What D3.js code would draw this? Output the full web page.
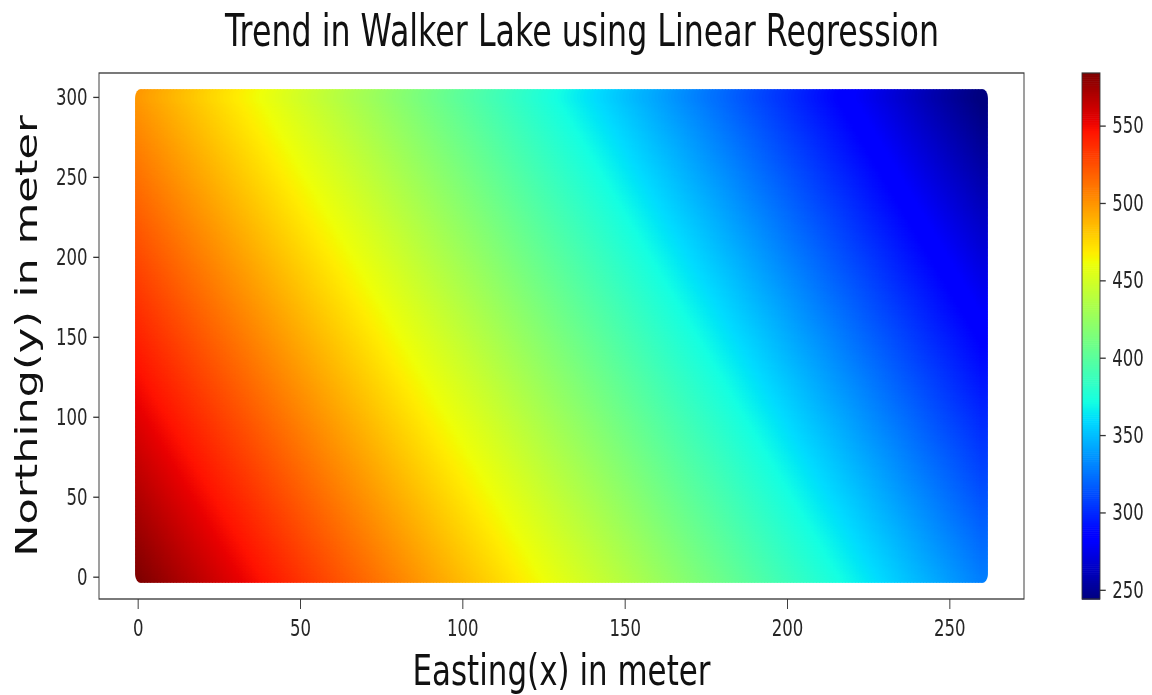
<!DOCTYPE html>
<html>
<head>
<meta charset="utf-8">
<script src="https://cdn.jsdelivr.net/npm/d3@7"></script>
<style>
  html, body { margin: 0; padding: 0; background: #fff; }
  #wrap { position: relative; width: 1152px; height: 695px; overflow: hidden; }
  #wrap canvas, #wrap svg { position: absolute; left: 0; top: 0; }
  text { font-family: "DejaVu Sans", sans-serif; }
</style>
</head>
<body>
<div id="wrap">
  <canvas id="points" width="1152" height="695"></canvas>
  <svg id="chart" width="1152" height="695"></svg>
</div>
<script>
// ---- data ----
const eastingRange = [1, 260];          // sample grid, metres
const northingRange = [1, 300];
const gridStep = [1];
// fitted trend: value = b0 + b1 * easting + b2 * northing
const trendCoefficients = [585.27, -0.9835, -0.285];
const xTickValues = [0, 50, 100, 150, 200, 250];
const yTickValues = [0, 50, 100, 150, 200, 250, 300];
const colorbarTickValues = [250, 300, 350, 400, 450, 500, 550];
const titleText = "Trend in Walker Lake using Linear Regression";
const xLabelText = "Easting(x) in meter";
const yLabelText = "Northing(y) in meter";

// ---- figure geometry (the figure is drawn horizontally condensed) ----
const S = 0.72;                 // horizontal condensing factor
const axL = 99 / S, axR = 1024 / S, axT = 73, axB = 599;
const cbL = 1082 / S, cbR = 1100 / S;

// ---- jet colormap (matplotlib segment data) ----
const jetR = d3.scaleLinear().domain([0, 0.35, 0.66, 0.89, 1]).range([0, 0, 1, 1, 0.5]).clamp(true);
const jetG = d3.scaleLinear().domain([0, 0.125, 0.375, 0.64, 0.91, 1]).range([0, 0, 1, 1, 0, 0]).clamp(true);
const jetB = d3.scaleLinear().domain([0, 0.11, 0.34, 0.65, 1]).range([0.5, 1, 1, 0, 0]).clamp(true);
const jet = t => d3.rgb(jetR(t) * 255, jetG(t) * 255, jetB(t) * 255).toString();

// ---- sample points and predicted trend ----
const step = gridStep[0];
const eastings = d3.range(eastingRange[0], eastingRange[1] + step / 2, step);
const northings = d3.range(northingRange[0], northingRange[1] + step / 2, step);
const [b0, b1, b2] = trendCoefficients;
const points = [];
for (const n of northings) for (const e of eastings) {
  points.push({ e, n, v: b0 + b1 * e + b2 * n });
}
const [vmin, vmax] = d3.extent(points, d => d.v);
const norm = d3.scaleLinear().domain([vmin, vmax]).range([0, 1]).clamp(true);

// ---- scales (5% margins as in the default autoscale) ----
const ex = eastingRange[1] - eastingRange[0], ny = northingRange[1] - northingRange[0];
const x = d3.scaleLinear()
  .domain([eastingRange[0] - 0.05 * ex, eastingRange[1] + 0.05 * ex])
  .range([axL, axR]);
const y = d3.scaleLinear()
  .domain([northingRange[0] - 0.05 * ny, northingRange[1] + 0.05 * ny])
  .range([axB, axT]);
const cb = d3.scaleLinear().domain([vmin, vmax]).range([axB, axT]);

// ---- scatter on canvas ----
const ctx = document.getElementById("points").getContext("2d");
ctx.setTransform(S, 0, 0, 1, 0, 0);
const r = 8;
for (const p of points) {
  ctx.fillStyle = jet(norm(p.v));
  ctx.beginPath();
  ctx.arc(x(p.e), y(p.n), r, 0, 2 * Math.PI);
  ctx.fill();
}

// ---- svg overlay ----
const svg = d3.select("#chart");
const g = svg.append("g").attr("transform", `scale(${S},1)`);
const ink = "#262626";

// frame
g.append("rect")
  .attr("x", axL).attr("y", axT)
  .attr("width", axR - axL).attr("height", axB - axT)
  .attr("fill", "none").attr("stroke", "#333").attr("stroke-width", 1.3);

const styleAxis = sel => {
  sel.select(".domain").remove();
  sel.selectAll(".tick line").attr("stroke", "#333").attr("stroke-width", 1.3);
  sel.selectAll(".tick text").attr("fill", ink).attr("font-size", 23)
    .attr("font-family", "DejaVu Sans, sans-serif");
};

g.append("g")
  .attr("transform", `translate(0,${axB})`)
  .call(d3.axisBottom(x).tickValues(xTickValues).tickSize(10).tickPadding(11).tickFormat(d3.format("d")))
  .call(styleAxis);

g.append("g")
  .attr("transform", `translate(${axL},0)`)
  .call(d3.axisLeft(y).tickValues(yTickValues).tickSize(8).tickPadding(8).tickFormat(d3.format("d")))
  .call(styleAxis);

// colorbar
const levels = d3.range(256);
const band = (vmax - vmin) / 256;
g.append("g").selectAll("rect")
  .data(levels)
  .join("rect")
  .attr("x", cbL)
  .attr("width", cbR - cbL)
  .attr("y", i => cb(vmin + (i + 1) * band))
  .attr("height", i => cb(vmin + i * band) - cb(vmin + (i + 1) * band) + 0.6)
  .attr("fill", i => jet((i + 0.5) / 256));
g.append("rect")
  .attr("x", cbL).attr("y", axT)
  .attr("width", cbR - cbL).attr("height", axB - axT)
  .attr("fill", "none").attr("stroke", "#333").attr("stroke-width", 1.2);
g.append("g")
  .attr("transform", `translate(${cbR},0)`)
  .call(d3.axisRight(cb).tickValues(colorbarTickValues).tickSize(8).tickPadding(9).tickFormat(d3.format("d")))
  .call(styleAxis);

// titles
g.append("text")
  .attr("x", 582 / S).attr("y", 46)
  .attr("text-anchor", "middle")
  .attr("font-size", 44).attr("fill", "#111")
  .text(titleText);

g.append("text")
  .attr("x", (axL + axR) / 2).attr("y", 685)
  .attr("text-anchor", "middle")
  .attr("font-size", 43).attr("fill", "#111")
  .text(xLabelText);

g.append("text")
  .attr("transform", `translate(${37 / S},${(axT + axB) / 2}) rotate(-90)`)
  .attr("text-anchor", "middle")
  .attr("font-size", 43).attr("fill", "#111")
  .text(yLabelText);
</script>
</body>
</html>
